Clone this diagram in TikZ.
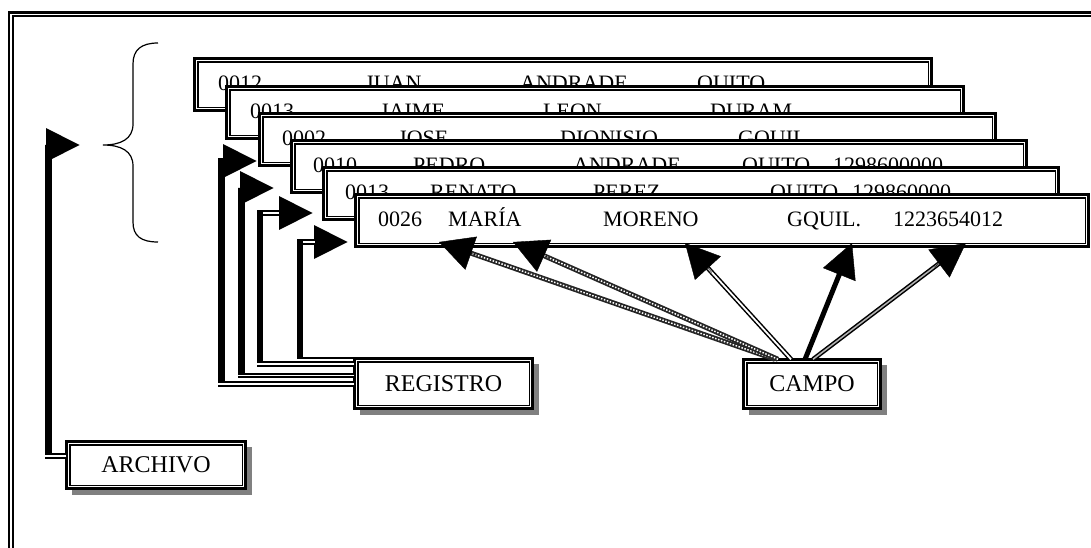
\documentclass[tikz,border=0pt]{standalone}
\usepackage{fontspec}
\setmainfont{Liberation Serif}
\usetikzlibrary{arrows.meta,calc,shadows}
\tikzset{
  dframe/.style={draw, fill=white, line width=2.6pt, inner sep=0pt, outer sep=0pt,
    path picture={\draw[line width=1.4pt] ($(path picture bounding box.north west)+(3.5,3.5)$) rectangle ($(path picture bounding box.south east)+(-3.5,-3.5)$);}},
  recbox/.style={dframe, minimum height=52.4pt, anchor=north west},
  rtext/.style={anchor=base west, inner sep=0pt, font=\fontsize{22}{26}\selectfont},
  lbl/.style={dframe, font=\fontsize{24}{28}\selectfont, general shadow={fill=gray, shadow xshift=6pt, shadow yshift=-6pt}},
  vbar/.style={line width=6.5pt, -{Triangle[length=34pt,width=32pt]}},
  hdbl/.style={line width=1.8pt, double=white, double distance=1.6pt},
  head/.style={line width=0.4pt, -{Triangle[length=34pt,width=35pt]}},
  chain/.style={line width=5pt, black!85, postaction={draw=white, line width=1.5pt, dash pattern=on 1.5pt off 1.6pt}},
  dline/.style={line width=1.5pt, double=white, double distance=1.8pt},
  gline/.style={line width=1.5pt, double=gray!60, double distance=1.5pt},
  sline/.style={line width=5pt},
}
\begin{document}
\begin{tikzpicture}[x=1pt,y=-1pt]
\useasboundingbox (0,0) rectangle (1091,547);
% outer frame (cropped)
\begin{scope}
\clip (0,0) rectangle (1091,547);
\draw[line width=2.6pt] (9,560) -- (9,12.5) -- (1100,12.5);
\draw[line width=1.8pt] (13,560) -- (13,16) -- (1100,16);
\end{scope}
% brace
\draw[line width=1.2pt] (158,43) .. controls (141,43) and (133,50) .. (133,64) -- (133,124)
  .. controls (133,139) and (121,145) .. (103,145)
  .. controls (121,145) and (133,151) .. (133,166) -- (133,222)
  .. controls (133,236) and (141,242) .. (158,242);
% records
\node[recbox, minimum width=737.4pt] (r1) at (194.3,58.3) {};
\node[rtext] (r1a) at (218,90.5) {0012};
\node[rtext] (r1b) at (365,90.5) {JUAN};
\node[rtext] (r1c) at (520,90.5) {ANDRADE};
\node[rtext] (r1d) at (697,90.5) {QUITO};
\node[recbox, minimum width=737.4pt] (r2) at (226.3,86.3) {};
\node[rtext] (r2a) at (250,118.5) {0013};
\node[rtext] (r2b) at (380,118.5) {JAIME};
\node[rtext] (r2c) at (543,118.5) {LEON};
\node[rtext] (r2d) at (710,118.5) {DURAM};
\node[recbox, minimum width=736.4pt] (r3) at (259.3,113.3) {};
\node[rtext] (r3a) at (282,145.5) {0002};
\node[rtext] (r3b) at (398,145.5) {JOSE};
\node[rtext] (r3c) at (560,145.5) {DIONISIO};
\node[rtext] (r3d) at (738,145.5) {GQUIL};
\node[recbox, minimum width=735.4pt] (r4) at (291.3,140.3) {};
\node[rtext] (r4a) at (313,172.5) {0010};
\node[rtext] (r4b) at (413,172.5) {PEDRO};
\node[rtext] (r4c) at (573,172.5) {ANDRADE};
\node[rtext] (r4d) at (742,172.5) {QUITO};
\node[rtext] (r4e) at (833,172.5) {1298600000};
\node[recbox, minimum width=735.4pt] (r5) at (323.3,167.3) {};
\node[rtext] (r5a) at (345,199.5) {0013};
\node[rtext] (r5b) at (430,199.5) {RENATO};
\node[rtext] (r5c) at (593,199.5) {PEREZ};
\node[rtext] (r5d) at (770,199.5) {QUITO};
\node[rtext] (r5e) at (852,199.5) {129860000};
\node[recbox, minimum width=733.4pt] (r6) at (355.3,194.3) {};
\node[rtext] (r6a) at (378,226.5) {0026};
\node[rtext] (r6b) at (448,226.5) {MARÍA};
\node[rtext] (r6c) at (603,226.5) {MORENO};
\node[rtext] (r6d) at (787,226.5) {GQUIL.};
\node[rtext] (r6e) at (893,226.5) {1223654012};
% labels
\node[lbl, minimum width=178.4pt, minimum height=50.4pt] (reg) at (443.5,383.5) {REGISTRO};
\node[lbl, minimum width=137.4pt, minimum height=49.4pt] (campo) at (812,384) {CAMPO};
\node[lbl, minimum width=179.4pt, minimum height=47.4pt] (arch) at (156,465) {ARCHIVO};
% left connectors
\coordinate (ta) at (257,161);
\coordinate (tb) at (274,188);
\coordinate (tc) at (313,213);
\coordinate (td) at (348,242);
\coordinate (tar) at (80,145);
\coordinate (ba) at (221.7,382);
\coordinate (bb) at (241.7,373);
\coordinate (bc) at (260,361.5);
\coordinate (bd) at (300,357);
\coordinate (bar) at (48.3,453);
\coordinate (ya) at (0,384);
\coordinate (yb) at (0,375.5);
\coordinate (yc) at (0,364);
\coordinate (yd) at (0,357.5);
\coordinate (yar) at (0,456);
\draw[hdbl] (reg.west |- ya) -- ($(ba |- ya)+(-3.3,0)$);
\draw[hdbl] (reg.west |- yb) -- ($(bb |- yb)+(-3.3,0)$);
\draw[hdbl] (reg.west |- yc) -- ($(bc |- yc)+(-3.3,0)$);
\draw[line width=2pt] (reg.west |- yd) -- ($(bd |- yd)+(-3.3,0)$);
\draw[hdbl] (arch.west |- yar) -- ($(bar |- yar)+(-3.3,0)$);
\draw[vbar] (ba) |- (ta);
\draw[vbar] (bb) |- (tb);
\draw[vbar] (bc) |- (tc);
\draw[vbar] (bd) |- (td);
\draw[vbar] (bar) |- (tar);
\draw[white, line width=1.4pt] ($(bc |- tc)+(3.4,0)$) -- ($(tc)+(-34,0)$);
\draw[white, line width=1.4pt] ($(bd |- td)+(3.4,0)$) -- ($(td)+(-33,0)$);
% field arrows
\coordinate (f1) at (439,242);
\coordinate (f2) at (513,242);
\coordinate (f3) at (685,243);
\coordinate (f4) at (852,243);
\coordinate (f5) at (966,243);
\coordinate (s1) at ($(campo.north)+(-37,0)$);
\coordinate (s2) at ($(campo.north)+(-34,0)$);
\coordinate (s3) at ($(campo.north)+(-21,0)$);
\coordinate (s4) at ($(campo.north)+(-7,0)$);
\coordinate (s5) at ($(campo.north)+(1,0)$);
\draw[chain] (s1) -- ($(f1)!28pt!(s1)$);
\draw[chain] (s2) -- ($(f2)!28pt!(s2)$);
\draw[dline] (s3) -- ($(f3)!28pt!(s3)$);
\draw[sline] (s4) -- ($(f4)!28pt!(s4)$);
\draw[gline] (s5) -- ($(f5)!28pt!(s5)$);
\draw[head] ($(f1)!40pt!(s1)$) -- (f1);
\draw[head] ($(f2)!40pt!(s2)$) -- (f2);
\draw[head] ($(f3)!40pt!(s3)$) -- (f3);
\draw[head] ($(f4)!40pt!(s4)$) -- (f4);
\draw[head] ($(f5)!40pt!(s5)$) -- (f5);
\end{tikzpicture}
\end{document}
